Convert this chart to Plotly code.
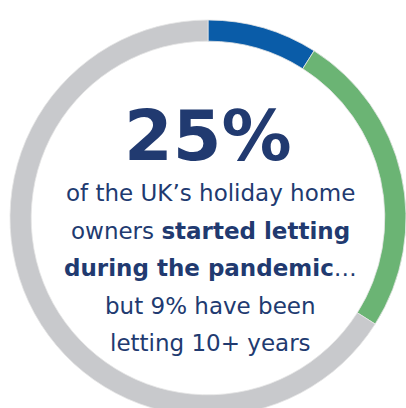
import plotly.graph_objects as go

segments = ["Letting 10+ years", "Started letting during the pandemic", "Other"]
shares = [9, 25, 66]
seg_colors = ["#0a5ca8", "#6bb474", "#c8c9cc"]

headline = "25%"
body_lines = [
    "of the UK’s holiday home",
    "owners <b>started letting</b>",
    "<b>during the pandemic</b>…",
    "but 9% have been",
    "letting 10+ years",
]

W, H = 406, 416
navy = "#213a70"
font = "DejaVu Sans"

fig = go.Figure(go.Pie(
    labels=segments, values=shares, hole=0.893, sort=False,
    direction="clockwise", rotation=0,
    marker=dict(colors=seg_colors, line=dict(color="#e6e6e6", width=0.8)),
    textinfo="none", hoverinfo="label+percent", showlegend=False,
    domain=dict(x=[10 / W, 1], y=[0, 396 / H]),
))

def py(p):
    return 1 - p / H

anns = [dict(text=f"<b>{headline}</b>", x=208 / W, y=py(136), xref="paper", yref="paper",
             xanchor="center", yanchor="middle", showarrow=False,
             font=dict(family=font, size=70, color=navy))]
centers = [193, 231, 268, 306, 343]
for t, c in zip(body_lines, centers):
    anns.append(dict(text=t, x=210 / W, y=py(c), xref="paper", yref="paper",
                     xanchor="center", yanchor="middle", showarrow=False,
                     font=dict(family=font, size=23, color=navy)))

fig.update_layout(width=W, height=H, margin=dict(l=0, r=0, t=0, b=0),
                  paper_bgcolor="white", plot_bgcolor="white", annotations=anns)

fig.write_html("out.html", config={"displayModeBar": False},
               post_script="document.body.style.margin='0';document.body.style.overflow='hidden';document.documentElement.style.overflow='hidden';")
